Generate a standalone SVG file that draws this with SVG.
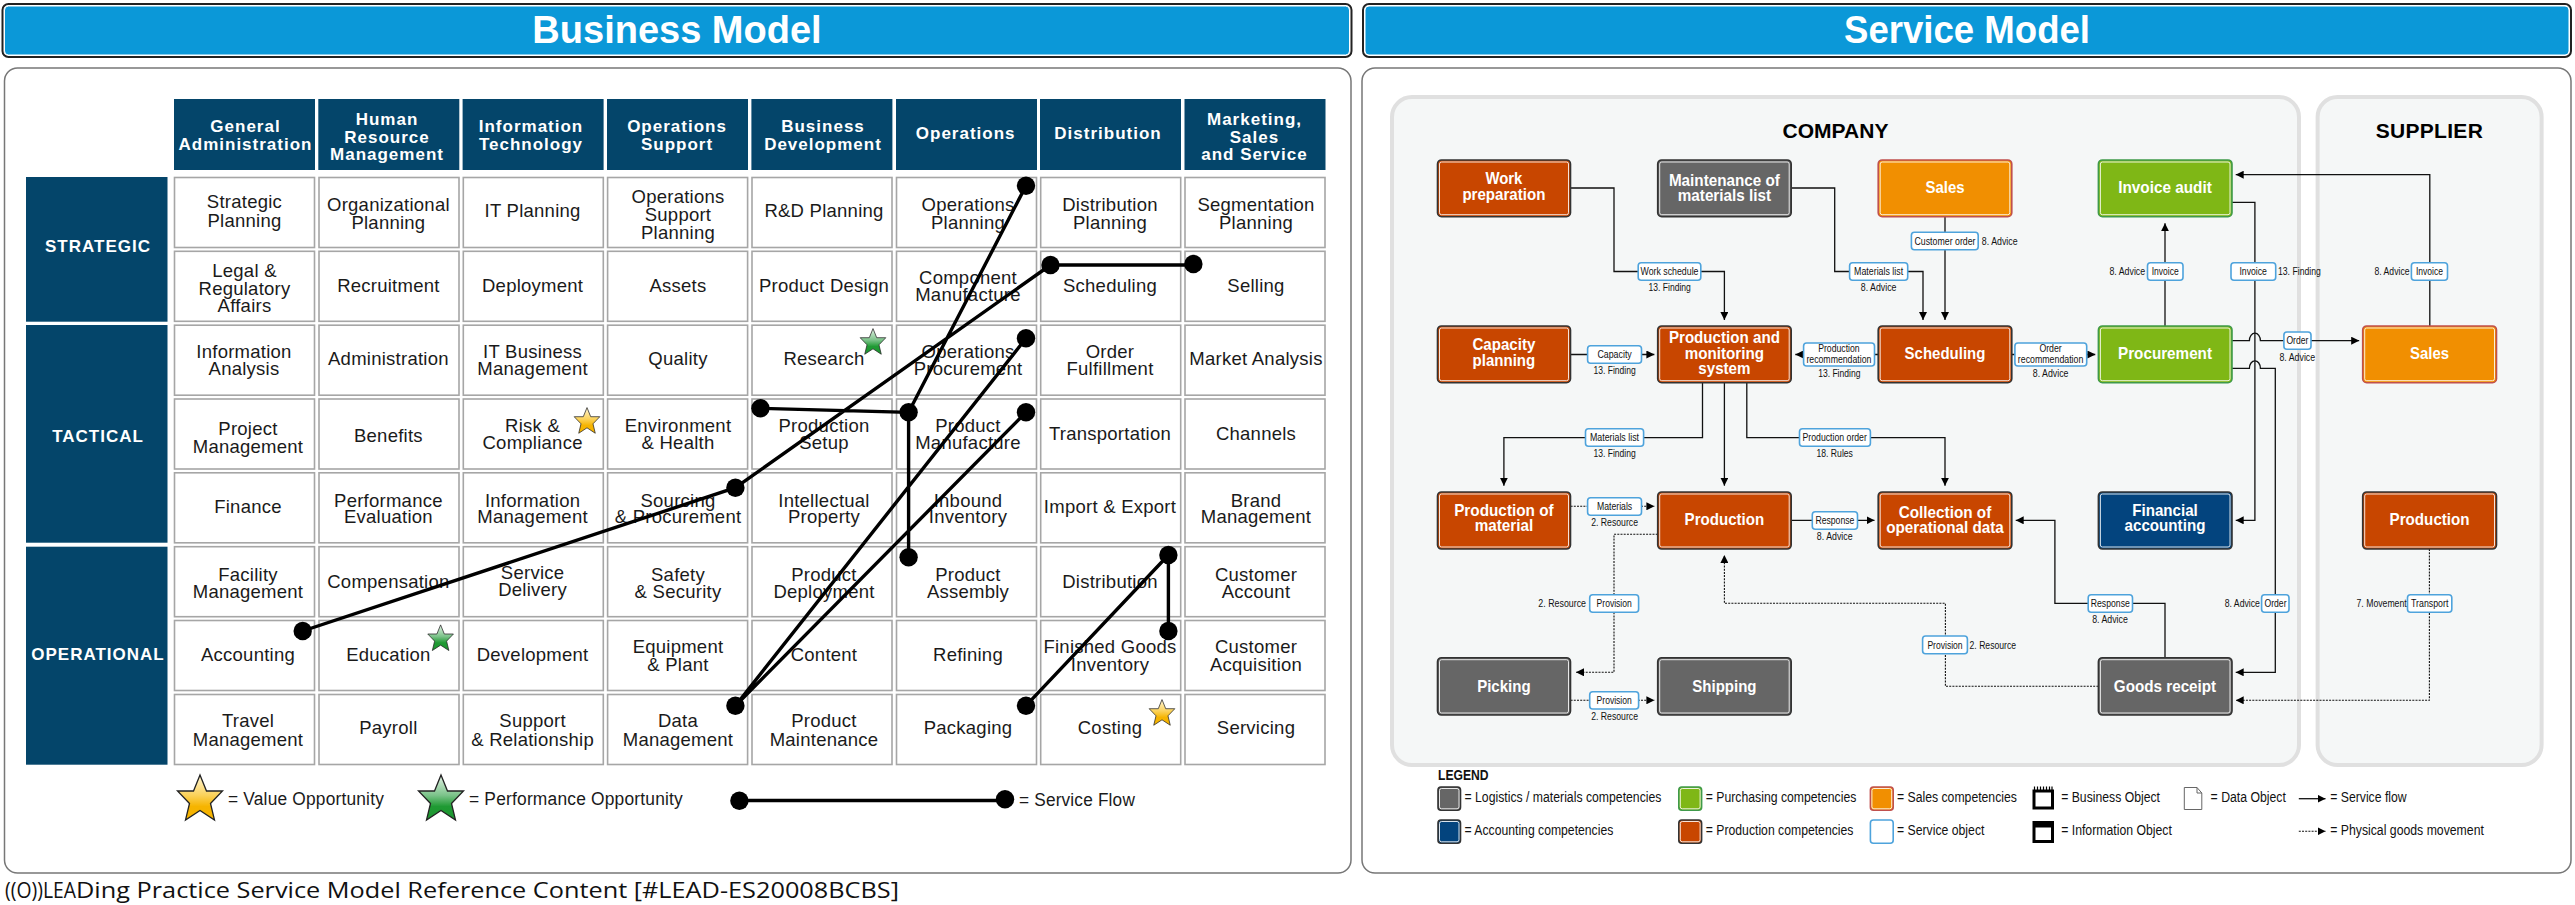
<svg xmlns="http://www.w3.org/2000/svg" xmlns:xlink="http://www.w3.org/1999/xlink" width="2575" height="905" viewBox="0 0 2575 905">
<style>
text{font-family:"Liberation Sans",Arial,sans-serif;fill:#1a1a1a}
.cell{fill:#fff;stroke:#a6a6a6;stroke-width:1.6}
.hd{fill:#04456a}
.t{font-size:18.5px;letter-spacing:.25px;text-anchor:middle}
.h{font-size:17px;font-weight:700;letter-spacing:1px;text-anchor:middle;fill:#fff}
.lg{font-size:18px;letter-spacing:.2px}
.flow{stroke:#000;stroke-width:3.4;fill:none}
.dot{fill:#000}
.panel{fill:#fff;stroke:#777;stroke-width:1.5}
.zone{fill:#f5f7f7;stroke:#e0e0e0;stroke-width:4}
.zt{font-size:21px;font-weight:700;text-anchor:middle;fill:#000}
.bar{fill:none;stroke:#222;stroke-width:2}
.barf{fill:#0b98d8;stroke:#fff;stroke-width:1}
.ttl{font-size:38px;font-weight:700;fill:#fff;text-anchor:middle}
.n{stroke-width:1.6}
.ni{fill:none;stroke:#fff;stroke-width:1;opacity:.85}
.prod{fill:#c84600;stroke:#333}
.grey{fill:#666;stroke:#333}
.sale{fill:#f18f01;stroke:#c0504d}
.buy{fill:#7fb716;stroke:#3f9a4a}
.acc{fill:#03447e;stroke:#333}
.nt{font-size:16.5px;font-weight:700;fill:#fff;text-anchor:middle}
.svc{fill:#fff;stroke:#4ea3dc;stroke-width:1.6}
.s{font-size:11px;text-anchor:middle;fill:#111}
.sl{font-size:11px;fill:#111}
.l{font-size:14px;fill:#111}
.c{fill:none;stroke:#111;stroke-width:1.3}
.d{fill:none;stroke:#111;stroke-width:1.1;stroke-dasharray:2 1.2}
</style>
<defs>
<linearGradient id="gold" x1="0" y1="0" x2="0" y2="1"><stop offset="0" stop-color="#fff6d8"/><stop offset=".45" stop-color="#fbd25a"/><stop offset=".7" stop-color="#f6b400"/><stop offset="1" stop-color="#f5b300"/></linearGradient>
<linearGradient id="green" x1="0" y1="0" x2="0" y2="1"><stop offset="0" stop-color="#e4f2e6"/><stop offset=".45" stop-color="#7cc38a"/><stop offset=".7" stop-color="#1f9a33"/><stop offset="1" stop-color="#1d9630"/></linearGradient>
<polygon id="star" points="0,-23 6.5,-7 22.5,-7 10.5,5.5 14.5,22 0,12.5 -14.5,22 -10.5,5.5 -22.5,-7 -6.5,-7" stroke="#222" stroke-width="1.3"/>
<marker id="ah" markerUnits="userSpaceOnUse" markerWidth="8" markerHeight="8" viewBox="0 0 7 7" refX="7" refY="3.5" orient="auto"><path d="M0 0L7 3.5L0 7z" fill="#000"/></marker>
</defs>
<rect width="2575" height="905" fill="#fff"/>

<g id="business-title"><rect class="bar" x="2.5" y="4" width="1349" height="53" rx="6"/><rect class="barf" x="4.5" y="6" width="1345" height="49" rx="4"/><text class="ttl" x="677" y="43">Business Model</text></g>
<g id="service-title"><rect class="bar" x="1363" y="4" width="1208" height="53" rx="6"/><rect class="barf" x="1365" y="6" width="1204" height="49" rx="4"/><text class="ttl" x="1967" y="43" textLength="246" lengthAdjust="spacingAndGlyphs">Service Model</text></g>
<rect id="business-panel" class="panel" x="4.5" y="68" width="1346.5" height="805" rx="13"/>
<rect id="service-panel" class="panel" x="1362" y="68" width="1209" height="805" rx="13"/>

<g id="headers">
<g id="h-general"><rect class="hd" x="174" y="99" width="141" height="71"/><text class="h"><tspan x="245.5" y="132.3">General</tspan><tspan x="245.5" y="150">Administration</tspan></text></g>
<g id="h-hr"><rect class="hd" x="318.3" y="99" width="141" height="71"/><text class="h"><tspan x="387" y="125.3">Human</tspan><tspan x="387" y="143">Resource</tspan><tspan x="387" y="160.3">Management</tspan></text></g>
<g id="h-it"><rect class="hd" x="462.6" y="99" width="141" height="71"/><text class="h"><tspan x="531" y="132.3">Information</tspan><tspan x="531" y="150">Technology</tspan></text></g>
<g id="h-ops-support"><rect class="hd" x="607" y="99" width="141" height="71"/><text class="h"><tspan x="677" y="132.3">Operations</tspan><tspan x="677" y="150">Support</tspan></text></g>
<g id="h-bizdev"><rect class="hd" x="751.4" y="99" width="141" height="71"/><text class="h"><tspan x="823" y="132.3">Business</tspan><tspan x="823" y="150">Development</tspan></text></g>
<g id="h-ops"><rect class="hd" x="896" y="99" width="141" height="71"/><text class="h" x="965.7" y="139">Operations</text></g>
<g id="h-dist"><rect class="hd" x="1040" y="99" width="141" height="71"/><text class="h" x="1108" y="139">Distribution</text></g>
<g id="h-mkt"><rect class="hd" x="1184.5" y="99" width="141" height="71"/><text class="h"><tspan x="1254.5" y="125.3">Marketing,</tspan><tspan x="1254.5" y="143">Sales</tspan><tspan x="1254.5" y="160.3">and Service</tspan></text></g>
</g>
<g id="levels">
<g id="l-strategic"><rect class="hd" x="26" y="177" width="141.5" height="144.7"/><text class="h" x="98" y="252.3">STRATEGIC</text></g>
<g id="l-tactical"><rect class="hd" x="26" y="325" width="141.5" height="217.7"/><text class="h" x="98" y="442.3">TACTICAL</text></g>
<g id="l-operational"><rect class="hd" x="26" y="546.7" width="141.5" height="218"/><text class="h" x="98" y="660">OPERATIONAL</text></g>
</g>

<g id="cells">
<g id="c11"><rect class="cell" x="174.5" y="177.5" width="140" height="70"/><text class="t"><tspan x="244.5" y="208">Strategic</tspan><tspan x="244.5" y="226.5">Planning</tspan></text></g>
<g id="c12"><rect class="cell" x="319" y="177.5" width="140" height="70"/><text class="t"><tspan x="388.4" y="210.5">Organizational</tspan><tspan x="388.4" y="229">Planning</tspan></text></g>
<g id="c13"><rect class="cell" x="463.3" y="177.5" width="140" height="70"/><text class="t" x="532.6" y="217.3">IT Planning</text></g>
<g id="c14"><rect class="cell" x="607.6" y="177.5" width="140" height="70"/><text class="t"><tspan x="678" y="203.3">Operations</tspan><tspan x="678" y="220.7">Support</tspan><tspan x="678" y="238.7">Planning</tspan></text></g>
<g id="c15"><rect class="cell" x="752" y="177.5" width="140" height="70"/><text class="t" x="824" y="217.3">R&amp;D Planning</text></g>
<g id="c16"><rect class="cell" x="896.5" y="177.5" width="140" height="70"/><text class="t"><tspan x="968" y="210.5">Operations</tspan><tspan x="968" y="229">Planning</tspan></text></g>
<g id="c17"><rect class="cell" x="1040.7" y="177.5" width="140" height="70"/><text class="t"><tspan x="1110" y="210.5">Distribution</tspan><tspan x="1110" y="229">Planning</tspan></text></g>
<g id="c18"><rect class="cell" x="1185" y="177.5" width="140" height="70"/><text class="t"><tspan x="1256" y="210.5">Segmentation</tspan><tspan x="1256" y="229">Planning</tspan></text></g>

<g id="c21"><rect class="cell" x="174.5" y="251.3" width="140" height="70"/><text class="t"><tspan x="244.5" y="277.3">Legal &amp;</tspan><tspan x="244.5" y="294.7">Regulatory</tspan><tspan x="244.5" y="312.3">Affairs</tspan></text></g>
<g id="c22"><rect class="cell" x="319" y="251.3" width="140" height="70"/><text class="t" x="388.4" y="291.7">Recruitment</text></g>
<g id="c23"><rect class="cell" x="463.3" y="251.3" width="140" height="70"/><text class="t" x="532.6" y="291.7">Deployment</text></g>
<g id="c24"><rect class="cell" x="607.6" y="251.3" width="140" height="70"/><text class="t" x="678" y="291.7">Assets</text></g>
<g id="c25"><rect class="cell" x="752" y="251.3" width="140" height="70"/><text class="t" x="824" y="291.7">Product Design</text></g>
<g id="c26"><rect class="cell" x="896.5" y="251.3" width="140" height="70"/><text class="t"><tspan x="968" y="284.3">Component</tspan><tspan x="968" y="301.3">Manufacture</tspan></text></g>
<g id="c27"><rect class="cell" x="1040.7" y="251.3" width="140" height="70"/><text class="t" x="1110" y="291.7">Scheduling</text></g>
<g id="c28"><rect class="cell" x="1185" y="251.3" width="140" height="70"/><text class="t" x="1256" y="291.7">Selling</text></g>

<g id="c31"><rect class="cell" x="174.5" y="325.2" width="140" height="70"/><text class="t"><tspan x="244" y="358.3">Information</tspan><tspan x="244" y="375.3">Analysis</tspan></text></g>
<g id="c32"><rect class="cell" x="319" y="325.2" width="140" height="70"/><text class="t" x="388.4" y="365.3">Administration</text></g>
<g id="c33"><rect class="cell" x="463.3" y="325.2" width="140" height="70"/><text class="t"><tspan x="532.6" y="358.3">IT Business</tspan><tspan x="532.6" y="375.3">Management</tspan></text></g>
<g id="c34"><rect class="cell" x="607.6" y="325.2" width="140" height="70"/><text class="t" x="678" y="365.3">Quality</text></g>
<g id="c35"><rect class="cell" x="752" y="325.2" width="140" height="70"/><text class="t" x="824" y="365.3">Research</text></g>
<g id="c36"><rect class="cell" x="896.5" y="325.2" width="140" height="70"/><text class="t"><tspan x="968" y="358.3">Operations</tspan><tspan x="968" y="375.3">Procurement</tspan></text></g>
<g id="c37"><rect class="cell" x="1040.7" y="325.2" width="140" height="70"/><text class="t"><tspan x="1110" y="358.3">Order</tspan><tspan x="1110" y="375.3">Fulfillment</tspan></text></g>
<g id="c38"><rect class="cell" x="1185" y="325.2" width="140" height="70"/><text class="t" x="1256" y="365.3">Market Analysis</text></g>

<g id="c41"><rect class="cell" x="174.5" y="399" width="140" height="70"/><text class="t"><tspan x="248" y="435">Project</tspan><tspan x="248" y="453">Management</tspan></text></g>
<g id="c42"><rect class="cell" x="319" y="399" width="140" height="70"/><text class="t" x="388.4" y="442">Benefits</text></g>
<g id="c43"><rect class="cell" x="463.3" y="399" width="140" height="70"/><text class="t"><tspan x="532.6" y="432">Risk &amp;</tspan><tspan x="532.6" y="449">Compliance</tspan></text></g>
<g id="c44"><rect class="cell" x="607.6" y="399" width="140" height="70"/><text class="t"><tspan x="678" y="432">Environment</tspan><tspan x="678" y="449">&amp; Health</tspan></text></g>
<g id="c45"><rect class="cell" x="752" y="399" width="140" height="70"/><text class="t"><tspan x="824" y="432">Production</tspan><tspan x="824" y="449">Setup</tspan></text></g>
<g id="c46"><rect class="cell" x="896.5" y="399" width="140" height="70"/><text class="t"><tspan x="968" y="432">Product</tspan><tspan x="968" y="449">Manufacture</tspan></text></g>
<g id="c47"><rect class="cell" x="1040.7" y="399" width="140" height="70"/><text class="t" x="1110" y="440">Transportation</text></g>
<g id="c48"><rect class="cell" x="1185" y="399" width="140" height="70"/><text class="t" x="1256" y="440">Channels</text></g>

<g id="c51"><rect class="cell" x="174.5" y="472.8" width="140" height="70"/><text class="t" x="248" y="513.3">Finance</text></g>
<g id="c52"><rect class="cell" x="319" y="472.8" width="140" height="70"/><text class="t"><tspan x="388.4" y="506.7">Performance</tspan><tspan x="388.4" y="523.3">Evaluation</tspan></text></g>
<g id="c53"><rect class="cell" x="463.3" y="472.8" width="140" height="70"/><text class="t"><tspan x="532.6" y="506.7">Information</tspan><tspan x="532.6" y="523.3">Management</tspan></text></g>
<g id="c54"><rect class="cell" x="607.6" y="472.8" width="140" height="70"/><text class="t"><tspan x="678" y="506.7">Sourcing</tspan><tspan x="678" y="523.3">&amp; Procurement</tspan></text></g>
<g id="c55"><rect class="cell" x="752" y="472.8" width="140" height="70"/><text class="t"><tspan x="824" y="506.7">Intellectual</tspan><tspan x="824" y="523.3">Property</tspan></text></g>
<g id="c56"><rect class="cell" x="896.5" y="472.8" width="140" height="70"/><text class="t"><tspan x="968" y="506.7">Inbound</tspan><tspan x="968" y="523.3">Inventory</tspan></text></g>
<g id="c57"><rect class="cell" x="1040.7" y="472.8" width="140" height="70"/><text class="t" x="1110" y="513.3">Import &amp; Export</text></g>
<g id="c58"><rect class="cell" x="1185" y="472.8" width="140" height="70"/><text class="t"><tspan x="1256" y="506.7">Brand</tspan><tspan x="1256" y="523.3">Management</tspan></text></g>

<g id="c61"><rect class="cell" x="174.5" y="546.7" width="140" height="70"/><text class="t"><tspan x="248" y="580.7">Facility</tspan><tspan x="248" y="597.7">Management</tspan></text></g>
<g id="c62"><rect class="cell" x="319" y="546.7" width="140" height="70"/><text class="t" x="388.4" y="587.7">Compensation</text></g>
<g id="c63"><rect class="cell" x="463.3" y="546.7" width="140" height="70"/><text class="t"><tspan x="532.6" y="578.7">Service</tspan><tspan x="532.6" y="595.7">Delivery</tspan></text></g>
<g id="c64"><rect class="cell" x="607.6" y="546.7" width="140" height="70"/><text class="t"><tspan x="678" y="580.7">Safety</tspan><tspan x="678" y="597.7">&amp; Security</tspan></text></g>
<g id="c65"><rect class="cell" x="752" y="546.7" width="140" height="70"/><text class="t"><tspan x="824" y="580.7">Product</tspan><tspan x="824" y="597.7">Deployment</tspan></text></g>
<g id="c66"><rect class="cell" x="896.5" y="546.7" width="140" height="70"/><text class="t"><tspan x="968" y="580.7">Product</tspan><tspan x="968" y="597.7">Assembly</tspan></text></g>
<g id="c67"><rect class="cell" x="1040.7" y="546.7" width="140" height="70"/><text class="t" x="1110" y="587.7">Distribution</text></g>
<g id="c68"><rect class="cell" x="1185" y="546.7" width="140" height="70"/><text class="t"><tspan x="1256" y="580.7">Customer</tspan><tspan x="1256" y="597.7">Account</tspan></text></g>

<g id="c71"><rect class="cell" x="174.5" y="620.5" width="140" height="70"/><text class="t" x="248" y="661.3">Accounting</text></g>
<g id="c72"><rect class="cell" x="319" y="620.5" width="140" height="70"/><text class="t" x="388.4" y="661.3">Education</text></g>
<g id="c73"><rect class="cell" x="463.3" y="620.5" width="140" height="70"/><text class="t" x="532.6" y="661.3">Development</text></g>
<g id="c74"><rect class="cell" x="607.6" y="620.5" width="140" height="70"/><text class="t"><tspan x="678" y="653.3">Equipment</tspan><tspan x="678" y="671.3">&amp; Plant</tspan></text></g>
<g id="c75"><rect class="cell" x="752" y="620.5" width="140" height="70"/><text class="t" x="824" y="661.3">Content</text></g>
<g id="c76"><rect class="cell" x="896.5" y="620.5" width="140" height="70"/><text class="t" x="968" y="661.3">Refining</text></g>
<g id="c77"><rect class="cell" x="1040.7" y="620.5" width="140" height="70"/><text class="t"><tspan x="1110" y="653.3">Finished Goods</tspan><tspan x="1110" y="671.3">Inventory</tspan></text></g>
<g id="c78"><rect class="cell" x="1185" y="620.5" width="140" height="70"/><text class="t"><tspan x="1256" y="653.3">Customer</tspan><tspan x="1256" y="671.3">Acquisition</tspan></text></g>

<g id="c81"><rect class="cell" x="174.5" y="694.5" width="140" height="70"/><text class="t"><tspan x="248" y="727.3">Travel</tspan><tspan x="248" y="745.7">Management</tspan></text></g>
<g id="c82"><rect class="cell" x="319" y="694.5" width="140" height="70"/><text class="t" x="388.4" y="734.3">Payroll</text></g>
<g id="c83"><rect class="cell" x="463.3" y="694.5" width="140" height="70"/><text class="t"><tspan x="532.6" y="727.3">Support</tspan><tspan x="532.6" y="745.7">&amp; Relationship</tspan></text></g>
<g id="c84"><rect class="cell" x="607.6" y="694.5" width="140" height="70"/><text class="t"><tspan x="678" y="727.3">Data</tspan><tspan x="678" y="745.7">Management</tspan></text></g>
<g id="c85"><rect class="cell" x="752" y="694.5" width="140" height="70"/><text class="t"><tspan x="824" y="727.3">Product</tspan><tspan x="824" y="745.7">Maintenance</tspan></text></g>
<g id="c86"><rect class="cell" x="896.5" y="694.5" width="140" height="70"/><text class="t" x="968" y="734.3">Packaging</text></g>
<g id="c87"><rect class="cell" x="1040.7" y="694.5" width="140" height="70"/><text class="t" x="1110" y="734.3">Costing</text></g>
<g id="c88"><rect class="cell" x="1185" y="694.5" width="140" height="70"/><text class="t" x="1256" y="734.3">Servicing</text></g>
</g>

<g id="stars">
<use href="#star" transform="translate(587 420.7) scale(.57)" fill="url(#gold)"/>
<use href="#star" transform="translate(873 341.7) scale(.57)" fill="url(#green)"/>
<use href="#star" transform="translate(440.6 638) scale(.57)" fill="url(#green)"/>
<use href="#star" transform="translate(1162 712.7) scale(.57)" fill="url(#gold)"/>
</g>

<g id="service-flows">
<path class="flow" d="M1026 185.7L908.6 412.3M760.4 408.3L908.6 412.3V557.3M1050.5 265H1193.4M1050.5 265L735.4 487.7L302.7 631M1026 338.3L735.4 705.7L1026 412.3M1168.4 555V631M1168.4 555L1026 705.7"/>
<g class="dot"><circle cx="1026" cy="185.7" r="9.2"/><circle cx="908.6" cy="412.3" r="9.2"/><circle cx="760.4" cy="408.3" r="9.2"/><circle cx="908.6" cy="557.3" r="9.2"/><circle cx="1050.5" cy="265" r="9.2"/><circle cx="1193.4" cy="264" r="9.2"/><circle cx="735.4" cy="487.7" r="9.2"/><circle cx="302.7" cy="631" r="9.2"/><circle cx="1026" cy="338.3" r="9.2"/><circle cx="735.4" cy="705.7" r="9.2"/><circle cx="1026" cy="412.3" r="9.2"/><circle cx="1168.4" cy="555" r="9.2"/><circle cx="1168.4" cy="631" r="9.2"/><circle cx="1026" cy="705.7" r="9.2"/></g>
</g>

<g id="business-legend">
<use href="#star" transform="translate(200 798)" fill="url(#gold)"/>
<text class="lg" x="228" y="805" textLength="156" lengthAdjust="spacingAndGlyphs">= Value Opportunity</text>
<use href="#star" transform="translate(441 798)" fill="url(#green)"/>
<text class="lg" x="469" y="805" textLength="214" lengthAdjust="spacingAndGlyphs">= Performance Opportunity</text>
<path class="flow" d="M739.4 800.5H1005"/><circle class="dot" cx="739.4" cy="800.7" r="9.2"/><circle class="dot" cx="1005" cy="799.3" r="9.2"/>
<text class="lg" x="1019" y="806" textLength="116" lengthAdjust="spacingAndGlyphs">= Service Flow</text>
</g>
<text id="footer" x="5" y="898" font-size="22" style="font-family:'Open Sans','Noto Sans',sans-serif;fill:#111"><tspan textLength="71" lengthAdjust="spacingAndGlyphs">((O))LEA</tspan><tspan textLength="823" lengthAdjust="spacingAndGlyphs">Ding Practice Service Model Reference Content [#LEAD-ES20008BCBS]</tspan></text>

<g id="zones">
<rect id="zone-company" class="zone" x="1392" y="97" width="907" height="668" rx="20"/>
<rect id="zone-supplier" class="zone" x="2317.6" y="97" width="224" height="668" rx="20"/>
<text class="zt" x="1835.5" y="138">COMPANY</text>
<text class="zt" x="2429.4" y="138" style="letter-spacing:.3px">SUPPLIER</text>
</g>

<g id="connectors">
<path class="c" marker-end="url(#ah)" d="M1570.6 188H1614V271.5H1724.4V320"/>
<path class="c" marker-end="url(#ah)" d="M1791.2 188H1834.7V271.5H1923V320"/>
<path class="c" marker-end="url(#ah)" d="M1945 216.7V320"/>
<path class="c" marker-end="url(#ah)" d="M1570.6 354.5H1654.4"/>
<path class="c" marker-end="url(#ah)" d="M1878.2 354.5H1795.3"/>
<path class="c" marker-end="url(#ah)" d="M2011.8 354.5H2095.3"/>
<path class="c" marker-end="url(#ah)" d="M2165 326V223.3"/>
<path class="c" marker-end="url(#ah)" d="M2232 202.3H2254.9V520.3H2235.7"/>
<path class="c" marker-end="url(#ah)" d="M2429.8 326V174.7H2235.7"/>
<path class="c" marker-end="url(#ah)" d="M2232 340.7H2249.4A5.5 7.5 0 0 1 2260.4 340.7H2359.2"/>
<path class="c" marker-end="url(#ah)" d="M2232 368.3H2249.4A5.5 7.5 0 0 1 2260.4 368.3H2275.3V672.3H2235.7"/>
<path class="c" marker-end="url(#ah)" d="M1702.5 382.7V437.7H1503.9V485.7"/>
<path class="c" marker-end="url(#ah)" d="M1724.4 382.7V485.7"/>
<path class="c" marker-end="url(#ah)" d="M1746.8 382.7V437.7H1945V485.7"/>
<path class="d" marker-end="url(#ah)" d="M1570.6 506.3H1654.4"/>
<path class="c" marker-end="url(#ah)" d="M1791.2 520.3H1874.5"/>
<path class="d" marker-end="url(#ah)" d="M1657.7 534.3H1614V672.3H1576"/>
<path class="d" marker-end="url(#ah)" d="M2098.4 686.3H1945.4V603.3H1724.4V555"/>
<path class="d" marker-end="url(#ah)" d="M1570.6 700.3H1654.4"/>
<path class="c" marker-end="url(#ah)" d="M2165 657.7V603.3H2054.9V520.3H2015.7"/>
<path class="d" marker-end="url(#ah)" d="M2429.4 549V700.3H2235.7"/>
</g>

<g id="nodes">
<g id="n-work"><rect class="n prod" x="1437.5" y="160" width="133" height="56.7" rx="4"/><rect class="ni" x="1439.5" y="162" width="129" height="52.7" rx="2"/><text class="nt" x="1503.9" y="184" textLength="37" lengthAdjust="spacingAndGlyphs">Work</text><text class="nt" x="1503.9" y="200" textLength="83" lengthAdjust="spacingAndGlyphs">preparation</text></g>
<g id="n-maint"><rect class="n grey" x="1657.7" y="160" width="133.5" height="56.7" rx="4"/><rect class="ni" x="1659.7" y="162" width="129.5" height="52.7" rx="2"/><text class="nt" x="1724.4" y="186" textLength="111" lengthAdjust="spacingAndGlyphs">Maintenance of</text><text class="nt" x="1724.4" y="201.3" textLength="93.3" lengthAdjust="spacingAndGlyphs">materials list</text></g>
<g id="n-sales"><rect class="n sale" x="1878.2" y="160" width="133.6" height="56.7" rx="4"/><rect class="ni" x="1880.2" y="162" width="129.6" height="52.7" rx="2"/><text class="nt" x="1945" y="192.7" textLength="39" lengthAdjust="spacingAndGlyphs">Sales</text></g>
<g id="n-invoice"><rect class="n buy" x="2098.4" y="160" width="133.6" height="56.7" rx="4"/><rect class="ni" x="2100.4" y="162" width="129.6" height="52.7" rx="2"/><text class="nt" x="2165" y="193.3" textLength="93.7" lengthAdjust="spacingAndGlyphs">Invoice audit</text></g>
<g id="n-capacity"><rect class="n prod" x="1437.5" y="326" width="133" height="56.7" rx="4"/><rect class="ni" x="1439.5" y="328" width="129" height="52.7" rx="2"/><text class="nt" x="1503.9" y="350" textLength="63" lengthAdjust="spacingAndGlyphs">Capacity</text><text class="nt" x="1503.9" y="366" textLength="62.6" lengthAdjust="spacingAndGlyphs">planning</text></g>
<g id="n-pms"><rect class="n prod" x="1657.7" y="326" width="133.5" height="56.7" rx="4"/><rect class="ni" x="1659.7" y="328" width="129.5" height="52.7" rx="2"/><text class="nt" x="1724.4" y="343.3" textLength="111" lengthAdjust="spacingAndGlyphs">Production and</text><text class="nt" x="1724.4" y="359" textLength="79.2" lengthAdjust="spacingAndGlyphs">monitoring</text><text class="nt" x="1724.4" y="374" textLength="52.2" lengthAdjust="spacingAndGlyphs">system</text></g>
<g id="n-sched"><rect class="n prod" x="1878.2" y="326" width="133.6" height="56.7" rx="4"/><rect class="ni" x="1880.2" y="328" width="129.6" height="52.7" rx="2"/><text class="nt" x="1945" y="359" textLength="80.8" lengthAdjust="spacingAndGlyphs">Scheduling</text></g>
<g id="n-proc"><rect class="n buy" x="2098.4" y="326" width="133.6" height="56.7" rx="4"/><rect class="ni" x="2100.4" y="328" width="129.6" height="52.7" rx="2"/><text class="nt" x="2165" y="359" textLength="94" lengthAdjust="spacingAndGlyphs">Procurement</text></g>
<g id="n-sup-sales"><rect class="n sale" x="2362.7" y="326" width="133.8" height="56.7" rx="4"/><rect class="ni" x="2364.7" y="328" width="129.8" height="52.7" rx="2"/><text class="nt" x="2429.6" y="359" textLength="39" lengthAdjust="spacingAndGlyphs">Sales</text></g>
<g id="n-prodmat"><rect class="n prod" x="1437.5" y="492" width="133" height="57" rx="4"/><rect class="ni" x="1439.5" y="494" width="129" height="53" rx="2"/><text class="nt" x="1503.9" y="515.7" textLength="99.5" lengthAdjust="spacingAndGlyphs">Production of</text><text class="nt" x="1503.9" y="531" textLength="58.5" lengthAdjust="spacingAndGlyphs">material</text></g>
<g id="n-production"><rect class="n prod" x="1657.7" y="492" width="133.5" height="57" rx="4"/><rect class="ni" x="1659.7" y="494" width="129.5" height="53" rx="2"/><text class="nt" x="1724.4" y="525" textLength="79.6" lengthAdjust="spacingAndGlyphs">Production</text></g>
<g id="n-collect"><rect class="n prod" x="1878.2" y="492" width="133.6" height="57" rx="4"/><rect class="ni" x="1880.2" y="494" width="129.6" height="53" rx="2"/><text class="nt" x="1945" y="518" textLength="92.5" lengthAdjust="spacingAndGlyphs">Collection of</text><text class="nt" x="1945" y="533.3" textLength="117.7" lengthAdjust="spacingAndGlyphs">operational data</text></g>
<g id="n-fin"><rect class="n acc" x="2098.4" y="492" width="133.6" height="57" rx="4"/><rect class="ni" x="2100.4" y="494" width="129.6" height="53" rx="2"/><text class="nt" x="2165" y="515.7" textLength="65.5" lengthAdjust="spacingAndGlyphs">Financial</text><text class="nt" x="2165" y="531" textLength="80.8" lengthAdjust="spacingAndGlyphs">accounting</text></g>
<g id="n-sup-prod"><rect class="n prod" x="2362.7" y="492" width="133.8" height="57" rx="4"/><rect class="ni" x="2364.7" y="494" width="129.8" height="53" rx="2"/><text class="nt" x="2429.6" y="525" textLength="80" lengthAdjust="spacingAndGlyphs">Production</text></g>
<g id="n-pick"><rect class="n grey" x="1437.5" y="657.7" width="133" height="57.3" rx="4"/><rect class="ni" x="1439.5" y="659.7" width="129" height="53.3" rx="2"/><text class="nt" x="1503.9" y="691.7" textLength="53.5" lengthAdjust="spacingAndGlyphs">Picking</text></g>
<g id="n-ship"><rect class="n grey" x="1657.7" y="657.7" width="133.5" height="57.3" rx="4"/><rect class="ni" x="1659.7" y="659.7" width="129.5" height="53.3" rx="2"/><text class="nt" x="1724.4" y="691.7" textLength="64.3" lengthAdjust="spacingAndGlyphs">Shipping</text></g>
<g id="n-goods"><rect class="n grey" x="2098.4" y="657.7" width="133.6" height="57.3" rx="4"/><rect class="ni" x="2100.4" y="659.7" width="129.6" height="53.3" rx="2"/><text class="nt" x="2165" y="691.7" textLength="102.4" lengthAdjust="spacingAndGlyphs">Goods receipt</text></g>
</g>

<g id="service-objects">
<g id="so-workschedule"><rect class="svc" x="1638.2" y="262.7" width="62.6" height="17.6" rx="3"/><text class="s" x="1669.5" y="275" textLength="58" lengthAdjust="spacingAndGlyphs">Work schedule</text><text class="s" x="1669.7" y="291" textLength="42.3" lengthAdjust="spacingAndGlyphs">13. Finding</text></g>
<g id="so-matlist1"><rect class="svc" x="1849.6" y="262.7" width="58.1" height="17.6" rx="3"/><text class="s" x="1878.6" y="275" textLength="49" lengthAdjust="spacingAndGlyphs">Materials list</text><text class="s" x="1878.6" y="291" textLength="35.7" lengthAdjust="spacingAndGlyphs">8. Advice</text></g>
<g id="so-custorder"><rect class="svc" x="1911.4" y="232.3" width="66.8" height="17.4" rx="3"/><text class="s" x="1945" y="244.5" textLength="61" lengthAdjust="spacingAndGlyphs">Customer order</text><text class="s" x="1999.7" y="244.5" textLength="35.7" lengthAdjust="spacingAndGlyphs">8. Advice</text></g>
<g id="so-capacity"><rect class="svc" x="1587.6" y="345.7" width="53.9" height="17.6" rx="3"/><text class="s" x="1614.6" y="358" textLength="34.4" lengthAdjust="spacingAndGlyphs">Capacity</text><text class="s" x="1614.6" y="374" textLength="42.3" lengthAdjust="spacingAndGlyphs">13. Finding</text></g>
<g id="so-prodrec"><rect class="svc" x="1803.6" y="343" width="70.9" height="23" rx="3"/><text class="s" x="1838.9" y="351.7" textLength="41.5" lengthAdjust="spacingAndGlyphs">Production</text><text class="s" x="1838.9" y="362.7" textLength="65" lengthAdjust="spacingAndGlyphs">recommendation</text><text class="s" x="1839.3" y="376.7" textLength="42.3" lengthAdjust="spacingAndGlyphs">13. Finding</text></g>
<g id="so-orderrec"><rect class="svc" x="2014.9" y="343" width="71.8" height="23" rx="3"/><text class="s" x="2050.6" y="351.7" textLength="22.4" lengthAdjust="spacingAndGlyphs">Order</text><text class="s" x="2050.6" y="362.7" textLength="65.5" lengthAdjust="spacingAndGlyphs">recommendation</text><text class="s" x="2050.6" y="376.7" textLength="35.7" lengthAdjust="spacingAndGlyphs">8. Advice</text></g>
<g id="so-matlist2"><rect class="svc" x="1585.5" y="428.7" width="58.1" height="17.6" rx="3"/><text class="s" x="1614.5" y="441" textLength="49" lengthAdjust="spacingAndGlyphs">Materials list</text><text class="s" x="1614.6" y="456.7" textLength="42.3" lengthAdjust="spacingAndGlyphs">13. Finding</text></g>
<g id="so-prodorder"><rect class="svc" x="1799.5" y="428.7" width="70.9" height="17.6" rx="3"/><text class="s" x="1834.7" y="441" textLength="64.3" lengthAdjust="spacingAndGlyphs">Production order</text><text class="s" x="1834.7" y="456.7" textLength="36.5" lengthAdjust="spacingAndGlyphs">18. Rules</text></g>
<g id="so-invoice1"><rect class="svc" x="2147.5" y="262.7" width="35.5" height="17.6" rx="3"/><text class="s" x="2165.2" y="275" textLength="27" lengthAdjust="spacingAndGlyphs">Invoice</text><text class="s" x="2127.3" y="275" textLength="35.7" lengthAdjust="spacingAndGlyphs">8. Advice</text></g>
<g id="so-invoice2"><rect class="svc" x="2231" y="262.7" width="44.7" height="17.6" rx="3"/><text class="s" x="2253.2" y="275" textLength="27.5" lengthAdjust="spacingAndGlyphs">Invoice</text><text class="s" x="2299.4" y="275" textLength="42.8" lengthAdjust="spacingAndGlyphs">13. Finding</text></g>
<g id="so-invoice3"><rect class="svc" x="2411.4" y="262.7" width="36.1" height="17.6" rx="3"/><text class="s" x="2429.5" y="275" textLength="27" lengthAdjust="spacingAndGlyphs">Invoice</text><text class="s" x="2392" y="275" textLength="35" lengthAdjust="spacingAndGlyphs">8. Advice</text></g>
<g id="so-order1"><rect class="svc" x="2283.9" y="332" width="27.1" height="17.3" rx="3"/><text class="s" x="2297.4" y="344.3" textLength="22" lengthAdjust="spacingAndGlyphs">Order</text><text class="s" x="2297.3" y="361" textLength="35.7" lengthAdjust="spacingAndGlyphs">8. Advice</text></g>
<g id="so-materials"><rect class="svc" x="1587.6" y="497.7" width="53.9" height="17.6" rx="3"/><text class="s" x="1614.6" y="510" textLength="35.2" lengthAdjust="spacingAndGlyphs">Materials</text><text class="s" x="1614.6" y="526" textLength="46.8" lengthAdjust="spacingAndGlyphs">2. Resource</text></g>
<g id="so-response1"><rect class="svc" x="1812.3" y="511.7" width="45.2" height="17.6" rx="3"/><text class="s" x="1834.9" y="524" textLength="39" lengthAdjust="spacingAndGlyphs">Response</text><text class="s" x="1834.7" y="540" textLength="35.7" lengthAdjust="spacingAndGlyphs">8. Advice</text></g>
<g id="so-prov1"><rect class="svc" x="1589.7" y="594.7" width="48.9" height="17.6" rx="3"/><text class="s" x="1614.2" y="607" textLength="35.2" lengthAdjust="spacingAndGlyphs">Provision</text><text class="s" x="1562.2" y="607" textLength="47.7" lengthAdjust="spacingAndGlyphs">2. Resource</text></g>
<g id="so-prov2"><rect class="svc" x="1922.6" y="636" width="44.8" height="17.7" rx="3"/><text class="s" x="1945" y="648.5" textLength="35.2" lengthAdjust="spacingAndGlyphs">Provision</text><text class="s" x="1992.8" y="648.5" textLength="46.5" lengthAdjust="spacingAndGlyphs">2. Resource</text></g>
<g id="so-prov3"><rect class="svc" x="1589.7" y="691.7" width="48.9" height="17.3" rx="3"/><text class="s" x="1614.2" y="704" textLength="35.2" lengthAdjust="spacingAndGlyphs">Provision</text><text class="s" x="1614.6" y="720" textLength="46.8" lengthAdjust="spacingAndGlyphs">2. Resource</text></g>
<g id="so-response2"><rect class="svc" x="2088.2" y="594.7" width="44.3" height="17.6" rx="3"/><text class="s" x="2110.3" y="607" textLength="39" lengthAdjust="spacingAndGlyphs">Response</text><text class="s" x="2110" y="623" textLength="35.7" lengthAdjust="spacingAndGlyphs">8. Advice</text></g>
<g id="so-order2"><rect class="svc" x="2261.6" y="594.7" width="27.4" height="17.6" rx="3"/><text class="s" x="2275.5" y="607" textLength="22" lengthAdjust="spacingAndGlyphs">Order</text><text class="s" x="2242.3" y="607" textLength="35.3" lengthAdjust="spacingAndGlyphs">8. Advice</text></g>
<g id="so-transport"><rect class="svc" x="2407.5" y="594.7" width="44.3" height="17.6" rx="3"/><text class="s" x="2429.7" y="607" textLength="37.3" lengthAdjust="spacingAndGlyphs">Transport</text><text class="s" x="2381.6" y="607" textLength="50.2" lengthAdjust="spacingAndGlyphs">7. Movement</text></g>
</g>

<g id="service-legend">
<text x="1438" y="780" font-size="14" textLength="50.6" lengthAdjust="spacingAndGlyphs" style="fill:#111;font-weight:700">LEGEND</text>
<rect class="n grey" x="1438" y="787" width="22.5" height="23.3" rx="3"/><rect class="ni" x="1439.5" y="788.5" width="19.5" height="20.3" rx="2"/><text class="l" x="1464.5" y="802.3" textLength="196.9" lengthAdjust="spacingAndGlyphs">= Logistics / materials competencies</text>
<rect class="n buy" x="1678.8" y="787" width="22.8" height="23.3" rx="3"/><rect class="ni" x="1680.3" y="788.5" width="19.8" height="20.3" rx="2"/><text class="l" x="1705.8" y="802.3" textLength="150.5" lengthAdjust="spacingAndGlyphs">= Purchasing competencies</text>
<rect class="n sale" x="1870.4" y="787" width="22.8" height="23.3" rx="3"/><rect class="ni" x="1871.9" y="788.5" width="19.8" height="20.3" rx="2"/><text class="l" x="1897" y="802.3" textLength="119.9" lengthAdjust="spacingAndGlyphs">= Sales competencies</text>
<rect class="n acc" x="1438" y="820" width="22.5" height="23.3" rx="3"/><rect class="ni" x="1439.5" y="821.5" width="19.5" height="20.3" rx="2"/><text class="l" x="1464.5" y="835.3" textLength="148.8" lengthAdjust="spacingAndGlyphs">= Accounting competencies</text>
<rect class="n prod" x="1678.8" y="820" width="22.8" height="23.3" rx="3"/><rect class="ni" x="1680.3" y="821.5" width="19.8" height="20.3" rx="2"/><text class="l" x="1705.8" y="835.3" textLength="147.6" lengthAdjust="spacingAndGlyphs">= Production competencies</text>
<rect class="svc" x="1870.4" y="820" width="22.8" height="23.3" rx="3"/><text class="l" x="1897" y="835.3" textLength="87.4" lengthAdjust="spacingAndGlyphs">= Service object</text>
<rect x="2034" y="791" width="18.5" height="17" fill="#fff" stroke="#000" stroke-width="3"/><path d="M2034.5 786.5V790M2037.5 786.5V790M2040.5 786.5V790M2043.5 786.5V790M2046.5 786.5V790M2049.5 786.5V790M2052 786.5V790" stroke="#000" stroke-width="1.2"/>
<text class="l" x="2061.2" y="802.3" textLength="98.8" lengthAdjust="spacingAndGlyphs">= Business Object</text>
<rect x="2034" y="822.5" width="18.5" height="19" fill="#fff" stroke="#000" stroke-width="3"/><rect x="2034" y="822.5" width="18.5" height="5" fill="#000"/>
<text class="l" x="2061.2" y="835.3" textLength="110.6" lengthAdjust="spacingAndGlyphs">= Information Object</text>
<path d="M2184.3 787.5H2197L2201.8 793V809.5H2184.3Z M2197 787.5V793H2201.8" fill="#fff" stroke="#666" stroke-width="1"/>
<text class="l" x="2210.6" y="802.3" textLength="75.3" lengthAdjust="spacingAndGlyphs">= Data Object</text>
<path class="c" marker-end="url(#ah)" d="M2298.8 798.7H2325.5"/>
<text class="l" x="2330.2" y="802.3" textLength="76.5" lengthAdjust="spacingAndGlyphs">= Service flow</text>
<path class="d" marker-end="url(#ah)" d="M2298.8 831.3H2325.5"/>
<text class="l" x="2330.2" y="835.3" textLength="153.7" lengthAdjust="spacingAndGlyphs">= Physical goods movement</text>
</g>
</svg>
